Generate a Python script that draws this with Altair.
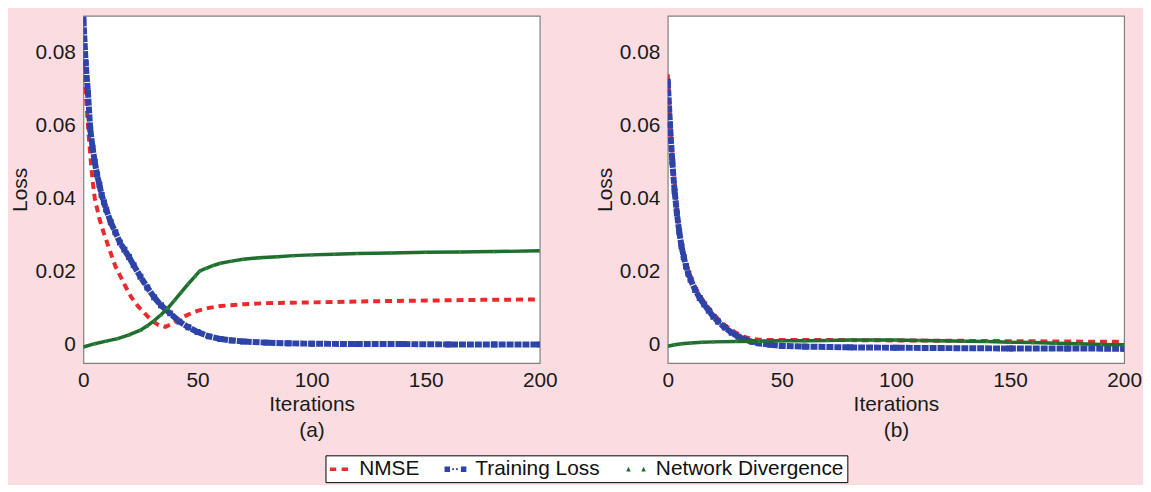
import altair as alt
import pandas as pd

SERIES = ["NMSE", "Training Loss", "Network Divergence"]
COLORS = ["#ec2a2c", "#2d43a8", "#1f6e2e"]
X_TICKS = [0, 50, 100, 150, 200]
Y_TICKS = [0, 0.02, 0.04, 0.06, 0.08]
PANEL_LABELS = ["(a)", "(b)"]

# ---- panel (a) ----
A_RED_IT = [0, 1, 2, 3, 4, 5, 7, 9, 12, 14, 16, 18, 21, 24, 27, 30, 33, 36, 39, 42, 46, 50, 55, 60, 70, 80, 100, 125, 150, 175, 200]
A_RED_V = [0.077, 0.069, 0.060, 0.052, 0.045, 0.040, 0.0345, 0.0305, 0.025, 0.0215, 0.019, 0.0165, 0.013, 0.0105, 0.0085,
           0.0066, 0.0054, 0.0049, 0.0058, 0.0071, 0.0083, 0.0093, 0.0101, 0.0106, 0.0111, 0.0114, 0.0116, 0.0119, 0.0121, 0.0123, 0.0124]

A_BLUE_IT = [0, 1, 2, 3, 4, 5, 6, 7, 8, 9, 10, 12, 14, 16, 18, 20, 22, 25, 28, 31, 34, 38, 42, 46, 50, 55, 60, 65, 70, 80, 90, 100, 120, 140, 160, 180, 200]
A_BLUE_V = [0.089, 0.077, 0.069, 0.059, 0.054, 0.050, 0.0465, 0.0438, 0.041, 0.039, 0.037, 0.0335, 0.0308, 0.028, 0.026, 0.024,
            0.0218, 0.0186, 0.0157, 0.013, 0.0108, 0.0086, 0.0064, 0.0048, 0.0035, 0.0023, 0.0016, 0.0012, 0.0009, 0.0006,
            0.0004, 0.0003, 0.0002, 0.0002, 0.0001, 0.0001, 0.0001]

A_GREEN_IT = [0, 5, 10, 15, 20, 25, 28, 31, 34, 37, 40, 43, 46, 49, 51, 54, 57, 60, 65, 70, 77, 85, 92, 100, 110, 120, 135, 150, 165, 180, 200]
A_GREEN_V = [-0.0006, 0.0003, 0.0010, 0.0017, 0.0027, 0.0040, 0.0052, 0.0066, 0.0082, 0.0100, 0.0122, 0.0145, 0.0167, 0.0188,
             0.0202, 0.0210, 0.0217, 0.0223, 0.0229, 0.0234, 0.0238, 0.0241, 0.0244, 0.0246, 0.0248, 0.0250, 0.0251, 0.0253,
             0.0254, 0.0255, 0.0257]

# ---- panel (b) ----
B_RED_IT = [0, 1, 2, 3, 4, 5, 6, 7, 8, 9, 10, 12, 14, 16, 18, 20, 22, 25, 28, 31, 34, 37, 40, 45, 50, 75, 100, 125, 150, 175, 200]
B_RED_V = [0.074, 0.062, 0.052, 0.044, 0.037, 0.032, 0.028, 0.025, 0.0225, 0.0205, 0.0187, 0.0158, 0.0136, 0.0117, 0.0100,
           0.0085, 0.0071, 0.0054, 0.0040, 0.0029, 0.0021, 0.0016, 0.0014, 0.0013, 0.0013, 0.0013, 0.0012, 0.0011, 0.0010,
           0.0009, 0.0008]

B_BLUE_IT = [0, 1, 2, 3, 4, 5, 6, 7, 8, 9, 10, 12, 14, 16, 18, 20, 22, 25, 28, 31, 34, 37, 40, 45, 50, 60, 80, 100, 120, 150, 175, 200]
B_BLUE_V = [0.072, 0.060, 0.050, 0.042, 0.036, 0.031, 0.027, 0.024, 0.0215, 0.0195, 0.0178, 0.015, 0.0128, 0.011, 0.0093,
            0.0077, 0.0064, 0.0047, 0.0033, 0.0022, 0.0014, 0.0008, 0.0004, 0.0000, -0.0003, -0.0005, -0.0007, -0.0008,
            -0.0009, -0.0010, -0.0010, -0.0011]

B_GREEN_IT = [0, 3, 6, 10, 15, 20, 30, 40, 50, 60, 70, 80, 90, 100, 110, 120, 130, 140, 150, 160, 170, 180, 190, 200]
B_GREEN_V = [-0.0004, 0.0000, 0.0003, 0.0005, 0.0007, 0.0008, 0.0009, 0.0010, 0.0011, 0.0011, 0.0012, 0.0013, 0.0013,
             0.0013, 0.0012, 0.0011, 0.0010, 0.0009, 0.0007, 0.0006, 0.0004, 0.0003, 0.0001, 0.0000]

LEGEND_SHAPES = [
    "M-0.87,-0.17H-0.29V0.17H-0.87Z M0.21,-0.17H0.79V0.17H0.21Z",
    "M-1,-0.25H-0.5V0.25H-1Z M-0.3,-0.08H-0.13V0.08H-0.3Z M0.05,-0.08H0.22V0.08H0.05Z M0.5,-0.25H1V0.25H0.5Z",
    "M-0.9,0.2L-0.69,-0.22L-0.48,0.2Z M0.48,0.2L0.69,-0.22L0.9,0.2Z",
]

FONT = "Liberation Sans"
FS = 21


def frame(it, v, name):
    return pd.DataFrame({"it": it, "v": v, "series": name})


def panel(red, blue, green, label, with_legend):
    df = pd.concat([frame(*red, SERIES[0]), frame(*blue, SERIES[1]), frame(*green, SERIES[2])], ignore_index=True)
    x = alt.X("it:Q", scale=alt.Scale(domain=[0, 200], nice=False),
              axis=alt.Axis(values=X_TICKS, title=["Iterations", label], labelFlush=False,
                            titleLineHeight=26, titlePadding=3, labelPadding=7))
    y = alt.Y("v:Q", scale=alt.Scale(domain=[-0.005, 0.09], nice=False, zero=False),
              axis=alt.Axis(values=Y_TICKS, format=".2~f", title="Loss", titlePadding=4, labelPadding=8))
    base = alt.Chart(df).encode(x=x, y=y)
    red_line = base.transform_filter(alt.datum.series == SERIES[0]).mark_line(
        color=COLORS[0], strokeWidth=4, strokeDash=[7, 5], clip=True)
    blue_line = base.transform_filter(alt.datum.series == SERIES[1]).mark_line(
        color=COLORS[1], strokeWidth=6, strokeDash=[7, 1], clip=True)
    blue_pts = base.transform_filter(alt.datum.series == SERIES[1]).mark_point(
        shape="square", filled=True, size=36, opacity=1, color=COLORS[1], clip=True)
    green_line = base.transform_filter(alt.datum.series == SERIES[2]).mark_line(
        color=COLORS[2], strokeWidth=3.5, clip=True)
    green_pts = base.transform_filter(alt.datum.series == SERIES[2]).mark_point(
        shape="triangle-up", filled=True, size=14, opacity=1, color="#2f8a3e", clip=True)
    layers = [red_line, blue_line, blue_pts, green_line, green_pts]
    if with_legend:
        leg = base.transform_filter(alt.datum.it < -1).mark_point(filled=True, opacity=1, clip=True).encode(
            color=alt.Color("series:N", scale=alt.Scale(domain=SERIES, range=COLORS), title=None,
                            legend=alt.Legend(orient="none", legendX=244, legendY=443, direction="horizontal",
                                              columns=3, symbolSize=484, labelOffset=9, columnPadding=25,
                                              padding=3, strokeColor="#000000", fillColor="#ffffff",
                                              labelFontSize=FS, labelFont=FONT, labelColor="#111111",
                                              symbolStrokeWidth=0, labelLimit=400)),
            shape=alt.Shape("series:N", scale=alt.Scale(domain=SERIES, range=LEGEND_SHAPES), title=None),
        )
        layers.append(leg)
    return alt.layer(*layers).properties(width=460, height=350)


left = panel((A_RED_IT, A_RED_V), (A_BLUE_IT, A_BLUE_V), (A_GREEN_IT, A_GREEN_V), PANEL_LABELS[0], True)
right = panel((B_RED_IT, B_RED_V), (B_BLUE_IT, B_BLUE_V), (B_GREEN_IT, B_GREEN_V), PANEL_LABELS[1], False)

chart = alt.hconcat(left, right, spacing=129, bounds="flush").properties(
    background="#fbdde1",
    padding={"left": 1, "top": 5, "right": 0, "bottom": 0},
).configure_view(
    fill="#ffffff", stroke="#808080", strokeWidth=1.2
).configure_axis(
    labelFont=FONT, titleFont=FONT, labelFontSize=FS, titleFontSize=FS,
    labelColor="#1a1a1a", titleColor="#1a1a1a", titleFontWeight="normal",
    domain=False, ticks=False, tickSize=0, grid=False, labelOverlap=False,
)

chart.save("out.html", embed_options={"renderer": "svg", "actions": False})
